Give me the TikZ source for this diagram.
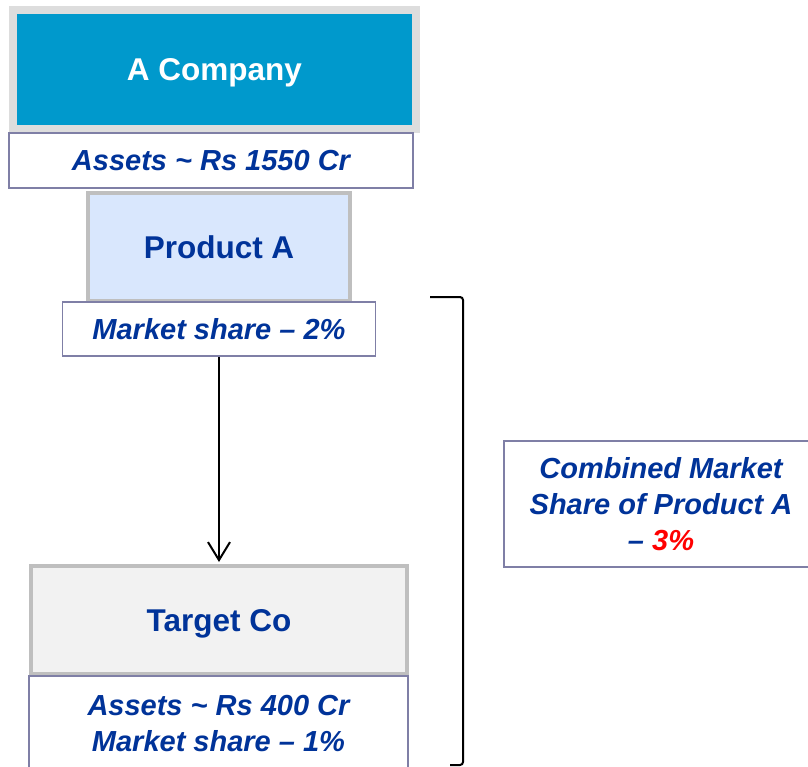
\documentclass[tikz,border=0pt]{standalone}
\usepackage{fontspec}
\setmainfont{Liberation Sans}
\usetikzlibrary{positioning,arrows.meta}
\definecolor{compblue}{HTML}{0099CC}
\definecolor{textblue}{HTML}{003399}
\definecolor{bandgray}{HTML}{DDDDDD}
\definecolor{edgegray}{HTML}{BFBFBF}
\definecolor{infoedge}{HTML}{7F7FA6}
\definecolor{prodfill}{HTML}{D9E7FD}
\definecolor{targetfill}{HTML}{F2F2F2}
\tikzset{
  >={Straight Barb[length=18pt,width=22pt]},
  headbox/.style={draw=edgegray, line width=4pt, text=textblue,
    font=\fontsize{31.5}{36}\selectfont\bfseries, inner sep=0pt,
    text height=22.5pt, text depth=0pt},
  infobox/.style={draw=infoedge, line width=1.5pt, fill=white, text=textblue,
    align=center, font=\fontsize{29}{36}\selectfont\bfseries\itshape, inner sep=0pt},
}

\begin{document}
\begin{tikzpicture}[x=1pt, y=-1pt]
  \useasboundingbox (0,0) rectangle (808,766);

  % Companies and products
  \node[headbox, draw=bandgray, line width=8pt, fill=compblue, text=white,
    minimum width=403pt, minimum height=119pt] (comp) at (214.5,69.5) {A Company};
  \node[infobox, minimum width=404pt, minimum height=55pt] (assets) at (211,160.5)
    {Assets \textasciitilde{} Rs 1550 Cr};
  \node[headbox, fill=prodfill, minimum width=262pt, minimum height=108pt] (prod)
    at (219,247) {Product A};
  \node[infobox, minimum width=313pt, minimum height=54pt] (share) at (219,329)
    {Market share -- 2\%};
  \node[headbox, fill=targetfill, minimum width=376pt, minimum height=108pt] (target)
    at (219,620) {Target Co};
  \node[infobox, minimum width=379pt, minimum height=95pt] (tinfo) at (218.5,723.5)
    {Assets \textasciitilde{} Rs 400 Cr\\Market share -- 1\%};
  \node[infobox, minimum width=314pt, minimum height=126pt] (combined) at (661,504)
    {Combined Market\\Share of Product A\\-- \textcolor{red}{3\%}};

  % Links
  \draw[->, line width=2pt, shorten >=2pt] (share.south) -- (target.north);
  \draw[line width=2pt, rounded corners=3pt] (430,297) -- (463,297) -- (463,765) -- (450,765);
\end{tikzpicture}
\end{document}
